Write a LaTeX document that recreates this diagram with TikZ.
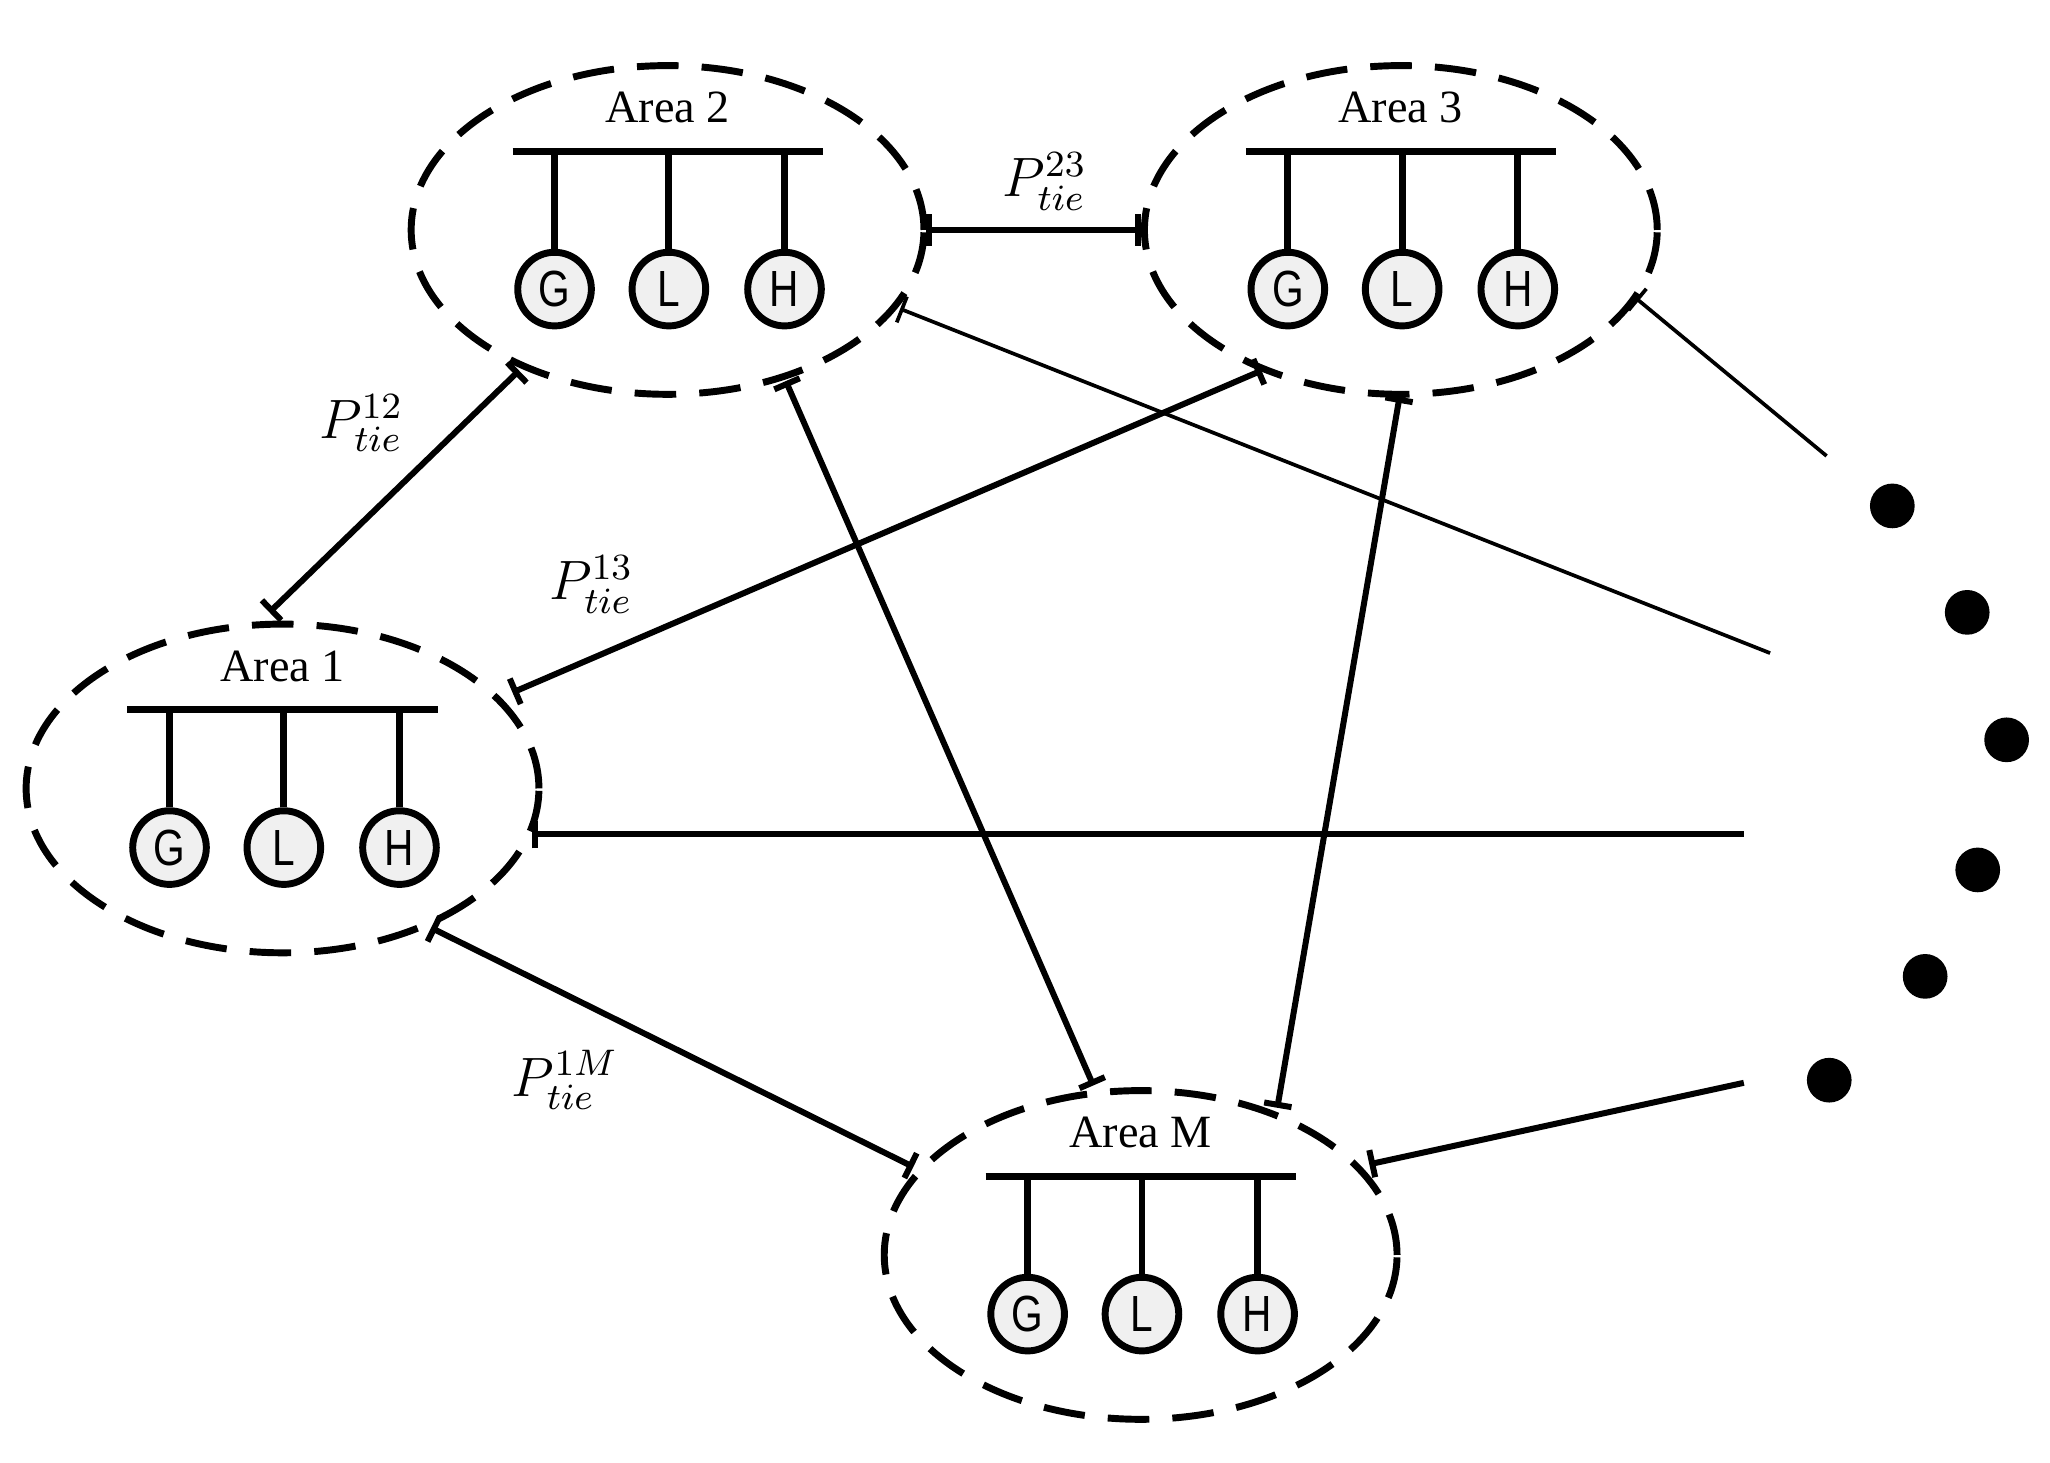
\documentclass[tikz,border=0pt]{standalone}
\usepackage{fontspec}
\setmainfont{Liberation Serif}
\newfontfamily\gfont{Liberation Sans}[FakeStretch=0.8]
\usetikzlibrary{arrows.meta,shapes.geometric}
\begin{document}
\begin{tikzpicture}[x=0.01cm,y=-0.01cm,
 area/.style={draw,ellipse,line width=1.5pt,dash pattern=on 9pt off 5pt},
 bus/.style={line width=1.5pt},
 dev/.style={circle,draw,line width=1.5pt,fill=gray!12,minimum size=0.56cm,inner sep=0pt,font=\gfont\fontsize{11}{12}\selectfont},
 lab/.style={font=\fontsize{10}{12}\selectfont},
 tie/.style={line width=1.3pt},
 thin/.style={line width=0.8pt},
 dot/.style={circle,fill=black,minimum size=0.34cm,inner sep=0pt},
 plab/.style={font=\fontsize{12}{14}\selectfont}]
\useasboundingbox (0,0) rectangle (1560,1113);
% areas
\foreach \n/\cx/\cy/\lab in {a2/508/175/Area 2,a3/1066/175/Area 3,a1/215/600/Area 1,am/868/955/Area M}{
 \node[area,minimum width=3.9cm,minimum height=2.5cm] (\n) at (\cx,\cy) {};
 \node[lab] (\n t) at (\cx,\cy-93) {\lab};
 \draw[bus] (\cx-118,\cy-60) -- (\cx+118,\cy-60);
 \node[dev] (\n g) at (\cx-86,\cy+45) {G};
 \node[dev] (\n l) at (\cx+1,\cy+45) {L};
 \node[dev] (\n h) at (\cx+89,\cy+45) {H};
 \draw[bus] (\n g.north) -- (\cx-86,\cy-60);
 \draw[bus] (\n l.north) -- (\cx+1,\cy-60);
 \draw[bus] (\n h.north) -- (\cx+89,\cy-60);
}
% end coordinates
\coordinate (e23a) at (705,175); \coordinate (e23b) at (868,175);
\coordinate (e12a) at (395,282); \coordinate (e12b) at (205,466);
\coordinate (e13a) at (390,527); \coordinate (e13b) at (960,282);
\coordinate (e1ma) at (328,706); \coordinate (e1mb) at (695,888);
\coordinate (e2ma) at (598,290); \coordinate (e2mb) at (832,826);
\coordinate (e3ma) at (1065,302); \coordinate (e3mb) at (972,843);
\coordinate (r2a) at (685,235); \coordinate (r2b) at (1347,497);
\coordinate (r3a) at (1245,227); \coordinate (r3b) at (1390,347);
\coordinate (r1a) at (405,635); \coordinate (r1b) at (1327,635);
\coordinate (rma) at (1042,886); \coordinate (rmb) at (1327,824);
\draw[tie,{Bar[width=7pt]}-{Bar[width=7pt]}] (e23a) -- (e23b);
\draw[tie,{Bar[width=6pt]}-{Bar[width=6pt]}] (e12a) -- (e12b);
\draw[tie,{Bar[width=6pt]}-{Bar[width=6pt]}] (e13a) -- (e13b);
\draw[tie,{Bar[width=6pt]}-{Bar[width=6pt]}] (e1ma) -- (e1mb);
\draw[tie,{Bar[width=6pt]}-{Bar[width=6pt]}] (e2ma) -- (e2mb);
\draw[tie,{Bar[width=6pt]}-{Bar[width=6pt]}] (e3ma) -- (e3mb);
\draw[thin,{Bar[width=6pt]}-] (r2a) -- (r2b);
\draw[thin,{Bar[width=6pt]}-] (r3a) -- (r3b);
\draw[tie,{Bar[width=6pt]}-] (r1a) -- (r1b);
\draw[tie,{Bar[width=6pt]}-] (rma) -- (rmb);
% labels
\node[plab] (p23) at (795,138) {$P_{tie}^{23}$};
\node[plab] (p12) at (275,322) {$P_{tie}^{12}$};
\node[plab] (p13) at (450,445) {$P_{tie}^{13}$};
\node[plab] (p1m) at (430,822) {$P_{tie}^{1M}$};
% dots
\foreach \i/\x/\y in {1/1440/385,2/1497/466,3/1527/563,4/1505/662,5/1465/743,6/1392/822}
 \node[dot] (d\i) at (\x,\y) {};
\end{tikzpicture}
\end{document}
